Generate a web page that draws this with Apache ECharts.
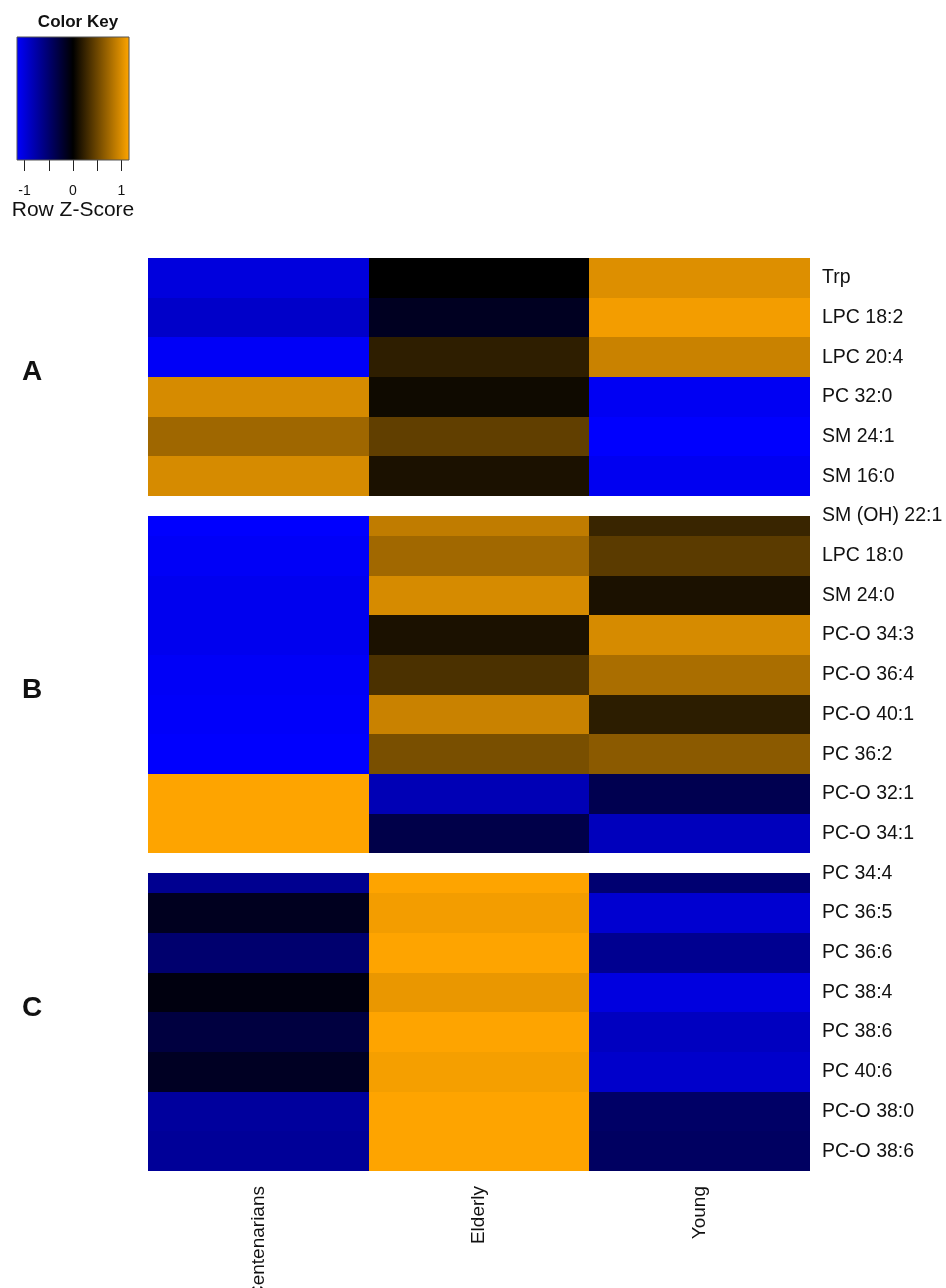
<!DOCTYPE html>
<html>
<head>
<meta charset="utf-8">
<script src="https://cdn.jsdelivr.net/npm/echarts@6/dist/echarts.min.js"></script>
<style>
  html, body { margin: 0; padding: 0; background: #fff; }
  #chart { width: 946px; height: 1288px; }
</style>
</head>
<body>
<div id="chart"></div>
<script>
// groups (columns)
const columns = ['Centenarians', 'Elderly', 'Young']

// metabolites, top to bottom
const rowLabels = [
  'Trp', 'LPC 18:2', 'LPC 20:4', 'PC 32:0', 'SM 24:1', 'SM 16:0',
  'SM (OH) 22:1', 'LPC 18:0', 'SM 24:0', 'PC-O 34:3', 'PC-O 36:4', 'PC-O 40:1',
  'PC 36:2', 'PC-O 32:1', 'PC-O 34:1',
  'PC 34:4', 'PC 36:5', 'PC 36:6', 'PC 38:4', 'PC 38:6', 'PC 40:6', 'PC-O 38:0', 'PC-O 38:6'
]

// row z-scores
const centenarians = [-1.00, -0.91, -1.12, 0.97, 0.72, 0.97, -1.15, -1.12, -1.08, -1.08, -1.12, -1.13, -1.15, 1.15, 1.15, -0.65, -0.14, -0.50, -0.07, -0.29, -0.16, -0.71, -0.69]
const elderly = [0.00, -0.15, 0.21, 0.07, 0.44, 0.12, 0.87, 0.73, 0.97, 0.12, 0.34, 0.91, 0.55, -0.82, -0.33, 1.15, 1.10, 1.15, 1.06, 1.15, 1.11, 1.15, 1.15]
const young = [1.00, 1.10, 0.91, -1.10, -1.15, -1.09, 0.26, 0.41, 0.12, 0.97, 0.77, 0.20, 0.63, -0.36, -0.85, -0.51, -0.94, -0.65, -1.01, -0.87, -0.92, -0.46, -0.44]

// first row of each cluster after A/B is half hidden by the cluster gap
const gapRows = ['SM (OH) 22:1', 'PC 34:4']
const groupLetters = ['A', 'B', 'C']

// colour key
const keyMin = -1.1547
const keyMax = 1.1547
const keyTicks = [-1, -0.5, 0, 0.5, 1]
const keyLabels = [-1, 0, 1]
const keyColors = ['#0000ff', '#000000', '#ffa500']

const font = 'Liberation Sans, Arial, sans-serif'

const values = [centenarians, elderly, young]
const cells = []
values.forEach((col, ci) => {
  col.forEach((v, ri) => cells.push([ci, ri, v]))
})

const chart = echarts.init(document.getElementById('chart'))

const option = {
  animation: false,
  backgroundColor: '#fff',
  textStyle: { fontFamily: font },
  title: {
    text: 'Color Key',
    left: 73,
    top: 9,
    textAlign: 'center',
    textStyle: { fontSize: 17, fontWeight: 'bold', color: '#111', fontFamily: font }
  },
  grid: [
    { left: 148, right: 136, top: 258, bottom: 117, outerBoundsMode: 'none', containLabel: false },
    { left: 17, top: 37, width: 112, height: 123, outerBoundsMode: 'none', containLabel: false }
  ],
  xAxis: [
    {
      type: 'category',
      gridIndex: 0,
      data: columns,
      position: 'bottom',
      axisLine: { show: false },
      axisTick: { show: false },
      axisLabel: { rotate: 90, fontSize: 19, color: '#111', margin: 15 }
    },
    {
      type: 'value',
      gridIndex: 1,
      min: keyMin,
      max: keyMax,
      position: 'bottom',
      splitLine: { show: false },
      axisLine: { show: false },
      axisTick: { show: true, customValues: keyTicks, length: 11, lineStyle: { color: '#222' } },
      axisLabel: { customValues: keyLabels, fontSize: 14, color: '#111', margin: 24 },
      name: 'Row Z-Score',
      nameLocation: 'middle',
      nameGap: 40,
      nameTextStyle: { fontSize: 21, color: '#111' }
    }
  ],
  yAxis: [
    {
      type: 'category',
      gridIndex: 0,
      data: rowLabels,
      inverse: true,
      position: 'right',
      axisLine: { show: false },
      axisTick: { show: false },
      axisLabel: { fontSize: 19.5, color: '#111', margin: 12 }
    },
    {
      type: 'value',
      gridIndex: 1,
      min: 0,
      max: 1,
      show: false
    }
  ],
  visualMap: {
    type: 'continuous',
    show: false,
    seriesIndex: 0,
    dimension: 2,
    min: keyMin,
    max: keyMax,
    inRange: { color: keyColors }
  },
  series: [
    {
      type: 'custom',
      xAxisIndex: 0,
      yAxisIndex: 0,
      data: cells,
      encode: { x: 0, y: 1 },
      renderItem: (params, api) => {
        const row = api.value(1)
        const c = api.coord([api.value(0), row])
        const s = api.size([1, 1])
        let y0 = c[1] - s[1] / 2
        const y1 = c[1] + s[1] / 2
        if (gapRows.includes(rowLabels[row])) y0 += s[1] / 2
        const x0 = Math.round(c[0] - s[0] / 2)
        const x1 = Math.round(c[0] + s[0] / 2)
        return {
          type: 'rect',
          shape: { x: x0, y: Math.round(y0), width: x1 - x0, height: Math.round(y1) - Math.round(y0) },
          style: { fill: api.visual('color') }
        }
      }
    },
    {
      type: 'custom',
      xAxisIndex: 1,
      yAxisIndex: 1,
      data: [[keyMin, keyMax]],
      encode: { x: [0, 1] },
      renderItem: (params, api) => {
        const p0 = api.coord([api.value(0), 1])
        const p1 = api.coord([api.value(1), 0])
        return {
          type: 'rect',
          shape: { x: p0[0], y: p0[1], width: p1[0] - p0[0], height: p1[1] - p0[1] },
          style: {
            fill: {
              type: 'linear', x: 0, y: 0, x2: 1, y2: 0,
              colorStops: keyColors.map((color, i) => ({ offset: i / (keyColors.length - 1), color }))
            },
            stroke: '#555',
            lineWidth: 1
          }
        }
      }
    }
  ],
  graphic: groupLetters.map((t, i) => ({
    type: 'text',
    left: 22,
    top: [358, 676, 994][i],
    style: { text: t, fill: '#111', font: 'bold 28px ' + font }
  }))
}

chart.setOption(option)
</script>
</body>
</html>
